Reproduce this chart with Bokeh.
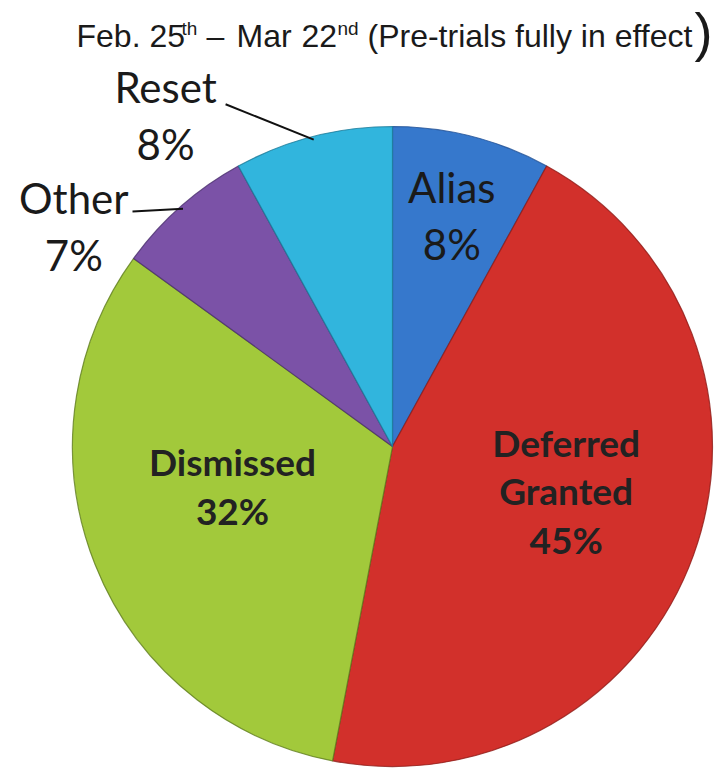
import numpy as np
from bokeh.plotting import figure
from bokeh.models import Range1d, ColumnDataSource
from bokeh.core.properties import value
from bokeh.embed import file_html
from bokeh.resources import INLINE

# ---------------- data ----------------
categories = ["Alias", "Deferred\nGranted", "Dismissed", "Other", "Reset"]
shares = [8, 45, 32, 7, 8]
title_parts = ["Feb. 25", "th", "\u2013", "Mar", "22", "nd", "(Pre-trials fully in effect", ")"]

# ---------------- styles / layout ----------------
fill_colors = ["#3678cc", "#d2302b", "#a2c93b", "#7b52a7", "#31b5dd"]
edge_colors = ["#1f4f93", "#8e1b18", "#5f7d1e", "#4b2f6e", "#1b7a99"]
label_bold = [False, True, True, False, False]
# label placement relative to slice middle: (angle shift in degrees, radius fraction)
label_polar = [(0.0, 0.745), (-5.5, 0.56), (7.7, 0.515), (-14.0, 1.21), (-20.0, 1.255)]
# leader lines for outside labels: (start angle shift, start radius fraction, end radius fraction)
leader_polar = {3: (-6.5, 1.095, 0.99), 4: (-11.6, 1.19, 0.99)}

W, H = 718, 770
CX, CY, R = 392, H - 446, 320

title_x = [76, 181, 206, 236, 301, 337, 367, 694]
title_y = [35, 28, 35, 35, 35, 28, 35, 1]
title_anchor = ["alphabetic"] * 7 + ["top"]
title_size = ["32px", "19px", "32px", "32px", "32px", "19px", "32px", "54px"]

p = figure(width=W, height=H, x_range=Range1d(0, W), y_range=Range1d(0, H),
           output_backend="svg", toolbar_location=None, min_border=0,
           background_fill_color="white", border_fill_color="white")
p.axis.visible = False
p.grid.visible = False
p.outline_line_color = None

vals = np.array(shares, dtype=float)
frac_end = np.cumsum(vals) / vals.sum()
frac_start = frac_end - vals / vals.sum()
start_angle = np.pi / 2 - 2 * np.pi * frac_start
end_angle = np.pi / 2 - 2 * np.pi * frac_end
mid_deg = 360 * (frac_start + frac_end) / 2  # clockwise from top

src = ColumnDataSource(dict(start=start_angle, end=end_angle, fill=fill_colors, edge=edge_colors))
p.wedge(x=CX, y=CY, radius=R, start_angle="start", end_angle="end", direction="clock",
        fill_color="fill", line_color="edge", line_width=1.2, line_alpha=0.8, source=src)

def polar(deg, frac):
    t = np.radians(deg)
    return CX + frac * R * np.sin(t), CY + frac * R * np.cos(t)

for i, cat in enumerate(categories):
    dshift, rf = label_polar[i]
    lx, ly = polar(mid_deg[i] + dshift, rf)
    txt = f"{cat}\n{shares[i]}%"
    bold = label_bold[i]
    p.text(x=[lx], y=[ly], text=[txt], text_align="center", text_baseline="middle",
           text_font=value("Lato"), text_font_style="bold" if bold else "normal",
           text_font_size="37px" if bold else "42px",
           text_line_height=1.08 if bold else 1.14,
           text_color="#222222" if bold else "#1a1a1a")
    if i in leader_polar:
        sd, rs, re_ = leader_polar[i]
        x0, y0 = polar(mid_deg[i] + sd, rs)
        x1, y1 = polar(mid_deg[i], re_)
        p.line([x0, x1], [y0, y1], line_color="#111111", line_width=2)

for t, x, yy, a, s in zip(title_parts, title_x, title_y, title_anchor, title_size):
    p.text(x=[x], y=[H - yy], text=[t], text_align="left", text_baseline=a,
           text_font=value("Liberation Sans"), text_font_size=s, text_color="#1a1a1a")

open("out.html", "w").write(file_html(p, INLINE))
